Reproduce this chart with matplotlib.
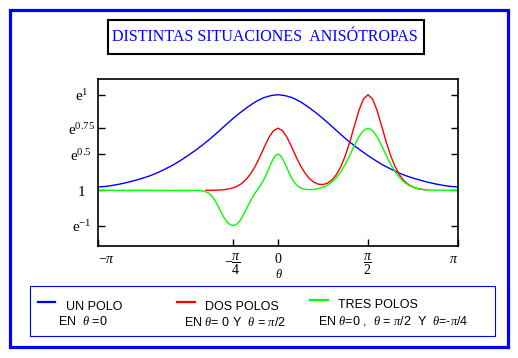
import matplotlib
matplotlib.use("Agg")
import numpy as np
import matplotlib.pyplot as plt
from matplotlib.patches import Rectangle
from matplotlib.lines import Line2D

plt.rcParams['mathtext.fontset'] = 'custom'
plt.rcParams['mathtext.rm'] = 'Liberation Serif'
plt.rcParams['mathtext.it'] = 'Liberation Serif:italic'

# theta en unidades de pi
theta_un = [-1.0, -0.958, -0.917, -0.875, -0.833, -0.792, -0.75, -0.708, -0.667, -0.625,
            -0.583, -0.542, -0.5, -0.458, -0.417, -0.375, -0.333, -0.292, -0.25, -0.208,
            -0.167, -0.125, -0.083, -0.042, 0.0, 0.042, 0.083, 0.125, 0.167, 0.208,
            0.25, 0.292, 0.333, 0.375, 0.417, 0.458, 0.5, 0.542, 0.583, 0.625,
            0.667, 0.708, 0.75, 0.792, 0.833, 0.875, 0.917, 0.958, 1.0]
val_un = [1.06, 1.07, 1.09, 1.115, 1.145, 1.18, 1.22, 1.265, 1.32, 1.385,
          1.455, 1.535, 1.625, 1.72, 1.82, 1.93, 2.05, 2.17, 2.29, 2.40,
          2.50, 2.59, 2.66, 2.70, 2.718, 2.70, 2.66, 2.59, 2.50, 2.40,
          2.29, 2.17, 2.05, 1.93, 1.82, 1.72, 1.625, 1.535, 1.455, 1.385,
          1.32, 1.265, 1.22, 1.18, 1.145, 1.115, 1.09, 1.07, 1.06]

theta_dos = [-0.4, -0.375, -0.35, -0.325, -0.3, -0.275, -0.25, -0.225, -0.2, -0.175,
             -0.15, -0.125, -0.1, -0.075, -0.05, -0.025, 0.0, 0.025, 0.05, 0.075,
             0.1, 0.125, 0.15, 0.175, 0.2, 0.225, 0.25, 0.275, 0.3, 0.325,
             0.35, 0.375, 0.4, 0.425, 0.45, 0.475, 0.5, 0.525, 0.55, 0.575,
             0.6, 0.625, 0.65, 0.675, 0.7, 0.725, 0.75, 0.775, 0.8, 0.825]
val_dos = [1.0, 1.001, 1.003, 1.006, 1.012, 1.024, 1.044, 1.076, 1.127, 1.202,
           1.306, 1.442, 1.606, 1.785, 1.952, 2.073, 2.117, 2.073, 1.952, 1.785,
           1.607, 1.444, 1.311, 1.211, 1.145, 1.11, 1.105, 1.129, 1.187, 1.285,
           1.431, 1.631, 1.881, 2.165, 2.439, 2.642, 2.718, 2.642, 2.439, 2.165,
           1.881, 1.629, 1.428, 1.278, 1.173, 1.103, 1.058, 1.032, 1.016, 1.008]

theta_tres = [-1.0, -0.45, -0.425, -0.4125, -0.4, -0.3875, -0.375, -0.3625, -0.35, -0.3375,
              -0.325, -0.3125, -0.3, -0.2875, -0.275, -0.2625, -0.25, -0.2375, -0.225, -0.2125,
              -0.2, -0.1875, -0.175, -0.1625, -0.15, -0.1375, -0.125, -0.1125, -0.1, -0.0875,
              -0.075, -0.0625, -0.05, -0.0375, -0.025, -0.0125, 0.0, 0.0125, 0.025, 0.0375,
              0.05, 0.0625, 0.075, 0.0875, 0.1, 0.1125, 0.125, 0.1375, 0.15, 0.175,
              0.2, 0.225, 0.25, 0.275, 0.3, 0.325, 0.35, 0.375, 0.4, 0.425,
              0.45, 0.475, 0.5, 0.525, 0.55, 0.575, 0.6, 0.625, 0.65, 0.675,
              0.7, 0.725, 0.75, 0.775, 0.8, 0.825, 0.85, 1.0]
val_tres = [1.0, 0.998, 0.993, 0.986, 0.973, 0.953, 0.921, 0.876, 0.817, 0.745,
            0.666, 0.585, 0.512, 0.45, 0.405, 0.377, 0.368, 0.377, 0.405, 0.45,
            0.512, 0.587, 0.668, 0.751, 0.828, 0.898, 0.96, 1.018, 1.076, 1.141,
            1.216, 1.302, 1.396, 1.49, 1.572, 1.629, 1.649, 1.629, 1.572, 1.491,
            1.398, 1.307, 1.226, 1.159, 1.107, 1.07, 1.044, 1.028, 1.018, 1.013,
            1.018, 1.032, 1.056, 1.094, 1.15, 1.23, 1.338, 1.476, 1.637, 1.808,
            1.964, 2.076, 2.117, 2.076, 1.964, 1.808, 1.637, 1.476, 1.338, 1.23,
            1.15, 1.094, 1.056, 1.032, 1.017, 1.009, 1.004, 1.0]

ytick_vals = [np.exp(-1), 1.0, np.exp(0.5), np.exp(0.75), np.exp(1)]
ytick_labels = [r'$\mathrm{e}^{-1}$', r'$\mathrm{1}$', r'$\mathrm{e}^{0.5}$',
                r'$\mathrm{e}^{0.75}$', r'$\mathrm{e}^{1}$']
xtick_vals = [-np.pi, -np.pi / 4, 0, np.pi / 2, np.pi]
xtick_labels = [r'$-\pi$', r'$-\dfrac{\pi}{4}$', r'$\mathrm{0}$', r'$\dfrac{\pi}{2}$', r'$\pi$']

W, H = 518, 358
fig = plt.figure(figsize=(W / 100, H / 100), dpi=100)


def fx(px):
    return px / W


def fy(py):
    return 1 - py / H


def box(x0, y0, x1, y1, color, lw):
    fig.patches.append(Rectangle((fx(x0), fy(y1)), fx(x1) - fx(x0), fy(y0) - fy(y1),
                                 transform=fig.transFigure, fill=False,
                                 edgecolor=color, linewidth=lw))


# marco exterior, titulo y leyenda
box(10, 10, 507.5, 346.5, '#0000FF', 2.3)
box(107.5, 19.5, 424, 54, 'black', 1.5)
fig.text(fx(265), fy(37), 'DISTINTAS SITUACIONES  ANISÓTROPAS', family='Liberation Serif',
         size=11.5, color='#0000FF', ha='center', va='center')

ax = fig.add_axes([fx(98), fy(246), fx(458) - fx(98), fy(79) - fy(246)])
ax.plot(np.array(theta_un) * np.pi, val_un, color='#0000FF', lw=1.0)
ax.plot(np.array(theta_dos) * np.pi, val_dos, color='#FF0000', lw=1.0)
ax.plot(np.array(theta_tres) * np.pi, val_tres, color='#00FF00', lw=1.0)
ax.set_xlim(-np.pi, np.pi)
ax.set_ylim(0, 3)
for s in ax.spines.values():
    s.set_linewidth(1.2)

ax.set_yticks(ytick_vals)
ax.set_yticklabels(ytick_labels, fontsize=11)
ax.set_xticks(xtick_vals)
ax.set_xticklabels(xtick_labels, fontsize=10)
ax.tick_params(axis='y', direction='in', length=5, width=1, right=True, pad=12)
ax.tick_params(axis='x', direction='in', length=5, width=1, pad=4)
for lab in ax.get_yticklabels():
    lab.set_horizontalalignment('center')
xl = ax.get_xticklabels()
xl[0].set_horizontalalignment('left')
xl[-1].set_horizontalalignment('right')
fig.text(fx(279), fy(275), r'$\theta$', size=9, ha='center', va='center')

box(29.5, 286, 494.5, 335.5, '#0000FF', 0.8)
for x0, x1, y, c in [(38, 55, 302, '#0000FF'), (177, 195, 301.5, '#FF0000'),
                     (310, 328, 300, '#00FF00')]:
    fig.lines.append(Line2D([fx(x0), fx(x1)], [fy(y), fy(y)], transform=fig.transFigure,
                            color=c, lw=1.6))

txt = dict(family='Liberation Sans', size=9, color='black', va='baseline', ha='left')
fig.text(fx(66.5), fy(309.5), 'UN POLO', **txt)
fig.text(fx(58.5), fy(325), r'EN  $\theta$ =0', **txt)
fig.text(fx(205), fy(309.5), 'DOS POLOS', **txt)
fig.text(fx(183.5), fy(326), r'EN $\theta$= 0 Y  $\theta$ = $\pi$/2', **txt)
fig.text(fx(337.5), fy(307.5), 'TRES POLOS', **txt)
fig.text(fx(317.5), fy(325), r'EN $\theta$=0 ,  $\theta$ = $\pi$/2  Y  $\theta$=-$\pi$/4', **txt)

fig.savefig('out.png', dpi=100)
